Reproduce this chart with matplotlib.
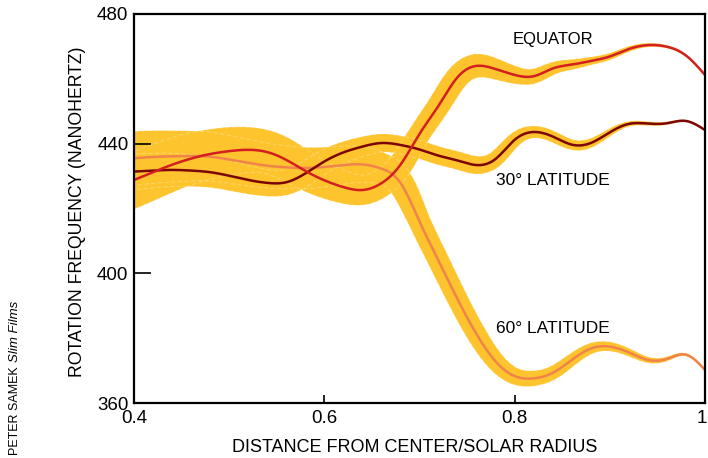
"""Solar interior rotation rate vs radius at three latitudes (helioseismology figure)."""

import matplotlib

matplotlib.use("Agg")
import matplotlib.pyplot as plt
import matplotlib.transforms as mtransforms
import numpy as np

plt.rcParams["font.family"] = ["Liberation Sans", "DejaVu Sans"]

# radius samples (fraction of solar radius)
radius = [0.40, 0.42, 0.44, 0.46, 0.48, 0.50, 0.52, 0.54, 0.56, 0.58, 0.60,
          0.62, 0.64, 0.66, 0.68, 0.70, 0.72, 0.74, 0.76, 0.78, 0.80,
          0.82, 0.84, 0.86, 0.88, 0.90, 0.92, 0.94, 0.96, 0.98, 1.00]

# rotation frequency, nanohertz
equator = [428.8, 431.2, 433.5, 435.4, 436.8, 437.7, 438.1, 437.4, 435.0, 431.6, 428.7,
           426.6, 425.7, 427.8, 433.5, 443.0, 451.7, 460.5, 464.0, 463.0, 461.2,
           460.8, 463.2, 464.4, 465.5, 466.9, 469.2, 470.4, 469.9, 467.2, 461.2]
lat30 = [431.4, 431.7, 431.9, 431.7, 431.2, 430.1, 428.8, 427.9, 428.1, 430.8, 434.5,
         437.3, 439.1, 440.2, 439.6, 438.2, 436.3, 434.8, 433.4, 435.3, 441.2,
         443.6, 442.2, 439.7, 440.2, 443.5, 446.1, 446.2, 446.3, 447.0, 444.2]
lat60 = [435.5, 435.9, 436.1, 436.2, 436.0, 435.1, 434.1, 433.2, 432.7, 432.5, 432.8,
         433.4, 433.6, 432.3, 427.9, 416.0, 403.9, 392.0, 381.2, 372.8, 368.3,
         367.6, 369.3, 373.3, 376.8, 377.4, 375.6, 373.3, 373.6, 374.9, 370.2]

# half thickness of each uncertainty band (pixels), at knot radii
band_r = {
    "eq": ([0.40, 0.50, 0.64, 0.70, 0.76, 0.81, 0.88, 0.94, 1.00],
           [27, 24, 15, 11, 12, 8, 4, 2, 0.5]),
    "30": ([0.40, 0.55, 0.66, 0.76, 0.82, 0.87, 0.92, 1.00],
           [18, 13, 9, 9, 6, 5, 2.5, 0.5]),
    "60": ([0.40, 0.55, 0.64, 0.70, 0.76, 0.81, 0.89, 0.94, 1.00],
           [27, 22, 18, 11, 10, 8, 5, 3, 0.5]),
}

YELLOW = "#fdc42e"


def spline(x, y, n=600):
    """Natural cubic spline through (x, y), sampled at n points."""
    x = np.asarray(x, float)
    y = np.asarray(y, float)
    m = len(x)
    h = np.diff(x)
    A = np.zeros((m, m))
    b = np.zeros(m)
    A[0, 0] = A[-1, -1] = 1
    for i in range(1, m - 1):
        A[i, i - 1] = h[i - 1]
        A[i, i] = 2 * (h[i - 1] + h[i])
        A[i, i + 1] = h[i]
        b[i] = 6 * ((y[i + 1] - y[i]) / h[i] - (y[i] - y[i - 1]) / h[i - 1])
    M = np.linalg.solve(A, b)
    xx = np.linspace(x[0], x[-1], n)
    k = np.clip(np.searchsorted(x, xx) - 1, 0, m - 2)
    t0 = x[k + 1] - xx
    t1 = xx - x[k]
    hk = h[k]
    yy = (M[k] * t0 ** 3 + M[k + 1] * t1 ** 3) / (6 * hk) \
        + (y[k] / hk - M[k] * hk / 6) * t0 + (y[k + 1] / hk - M[k + 1] * hk / 6) * t1
    return xx, yy


def extend(xx, yy, d=0.04, n=8):
    """Continue the curve straight past both ends so the band is cut by the frame."""
    sl0 = (yy[1] - yy[0]) / (xx[1] - xx[0])
    sl1 = (yy[-1] - yy[-2]) / (xx[-1] - xx[-2])
    t = np.linspace(d, 0, n, endpoint=False)
    xl, yl = xx[0] - t, yy[0] - sl0 * t
    t = t[::-1]
    xr, yr = xx[-1] + t, yy[-1] + sl1 * t
    return np.r_[xl, xx, xr], np.r_[yl, yy, yr]


fig = plt.figure(figsize=(7.08, 4.58), dpi=100)
ax = fig.add_axes([134 / 708, 1 - 403 / 458, 571 / 708, 389 / 458])
ax.set_xlim(0.4, 1.0)
ax.set_ylim(360, 480)

# pixels per data unit
sx = 571 / 0.6
sy = 389 / 120.0

series = [(equator, "eq", "#d31f1f"), (lat30, "30", "#7c0606"), (lat60, "60", "#f0834a")]
curves = []
for vals, key, col in series:
    xx, yy = spline(radius, vals)
    bx, by = extend(xx, yy)
    kr, kw = band_r[key]
    half = np.interp(bx, kr, kw)
    # offset the curve sideways in pixel space to get the band edges
    px, py = bx * sx, by * sy
    dx, dy = np.gradient(px), np.gradient(py)
    nrm = np.hypot(dx, dy)
    nx, ny = -dy / nrm, dx / nrm
    up = ((px + nx * half) / sx, (py + ny * half) / sy)
    lo = ((px - nx * half) / sx, (py - ny * half) / sy)
    curves.append((xx, yy, up, lo, col))

# yellow bands
for xx, yy, up, lo, col in curves:
    ax.fill(np.r_[up[0], lo[0][::-1]], np.r_[up[1], lo[1][::-1]],
            color=YELLOW, lw=0, zorder=1)

# faint white edges where bands overlap
for xx, yy, up, lo, col in curves:
    for ex, ey in (up, lo):
        ax.plot(ex, ey, color="white", lw=0.6, alpha=0.35, ls=(0, (5, 3)), zorder=2)

# central curves
for xx, yy, up, lo, col in curves[::-1]:
    ax.plot(xx, yy, color=col, lw=1.8, zorder=3)

ax.set_xticks([0.4, 0.6, 0.8, 1.0])
ax.set_xticklabels(["0.4", "0.6", "0.8", "1"])
ax.set_yticks([360, 400, 440, 480])
ax.tick_params(axis="x", direction="in", length=6, width=1.2, labelsize=13.5, pad=5)
ax.tick_params(axis="y", direction="in", length=12, width=1.2, labelsize=13.5, pad=4)
last = ax.get_xticklabels()[-1]
last.set_transform(last.get_transform() + mtransforms.ScaledTranslation(-3 / 100, 0, fig.dpi_scale_trans))
for sp in ax.spines.values():
    sp.set_linewidth(1.6)
    sp.set_zorder(5)

ax.text(0.840, 472.0, "EQUATOR", fontsize=12, ha="center", va="center")
ax.text(0.840, 428.6, "30° LATITUDE", fontsize=12.5, ha="center", va="center")
ax.text(0.840, 382.9, "60° LATITUDE", fontsize=12.5, ha="center", va="center")

fig.text(415 / 708, 1 - 448 / 458, "DISTANCE FROM CENTER/SOLAR RADIUS",
         fontsize=13, ha="center", va="center")
fig.text(78 / 708, 1 - 212 / 458, "ROTATION FREQUENCY (NANOHERTZ)",
         fontsize=12.7, ha="center", va="center", rotation=90)
fig.text(15 / 708, 1 - 455 / 458, "PETER SAMEK", fontsize=9, ha="center", va="bottom",
         rotation=90)
fig.text(15 / 708, 1 - 362 / 458, "Slim Films", fontsize=9.5, ha="center", va="bottom",
         rotation=90, style="italic")

fig.savefig("out.png", dpi=100)
